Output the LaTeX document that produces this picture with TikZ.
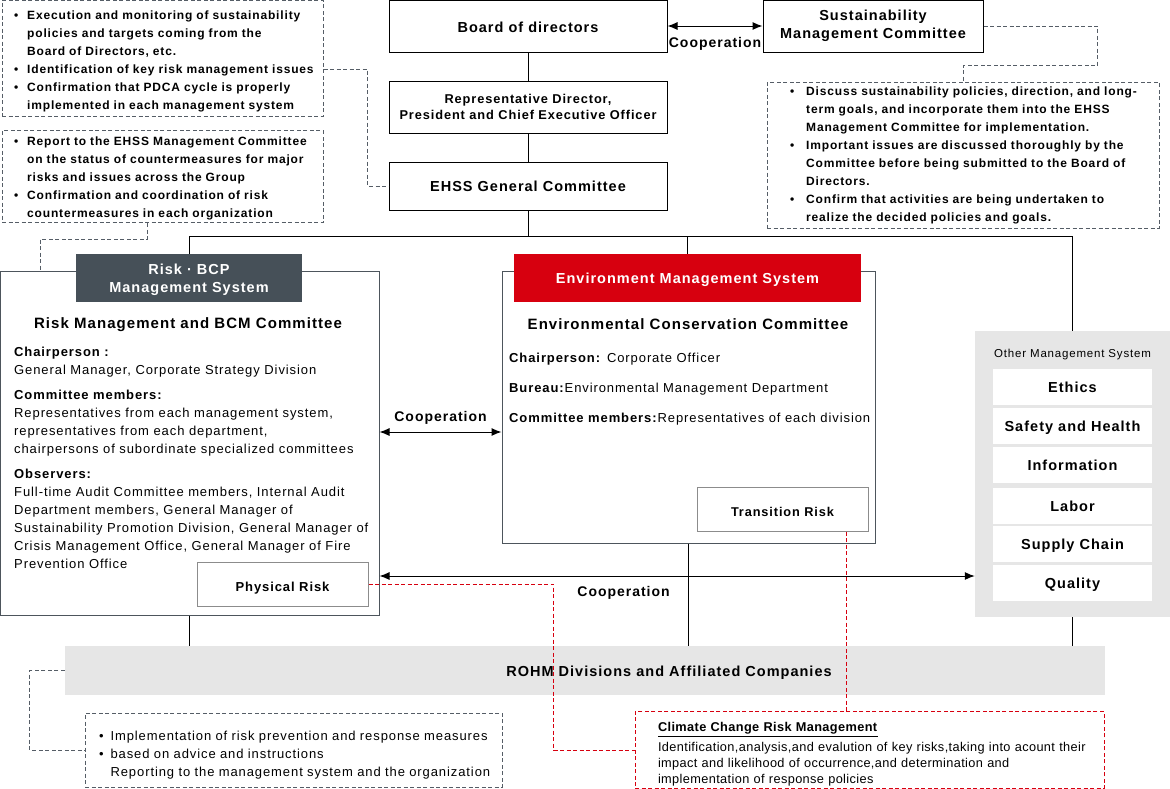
\documentclass[tikz,border=0pt]{standalone}
\usepackage{fontspec}
\setmainfont{Liberation Sans}[LetterSpace=7]
\newfontfamily\narrowfont{Liberation Sans}[LetterSpace=3]
\usepackage{tikz}
\usetikzlibrary{arrows.meta}
\definecolor{slate}{RGB}{70,80,88}
\definecolor{rohmred}{RGB}{215,0,15}
\definecolor{panel}{RGB}{230,230,230}
\definecolor{framegray}{RGB}{77,85,92}
\definecolor{linkgray}{RGB}{85,93,102}
\definecolor{riskgray}{RGB}{140,140,140}
\newcommand{\fsz}[2]{\fontsize{#1}{#2}\selectfont}
\newcommand{\tstrut}{\rule{0pt}{15pt}}
\newcommand{\rowlift}[1]{\rule{0pt}{#1}}
\tikzstyle{box}=[draw=black, line width=1pt, fill=white, inner sep=0pt, align=center, font=\fsz{14.5}{18}\bfseries]
\tikzstyle{frame}=[draw=framegray, line width=1pt, fill=white, inner sep=0pt]
\tikzstyle{tab}=[inner sep=0pt, align=center, text=white, minimum height=48pt, font=\fsz{14.5}{18}\bfseries]
\tikzstyle{title}=[inner sep=0pt, font=\fsz{15}{18}\bfseries]
\tikzstyle{riskbox}=[draw=riskgray, line width=1pt, fill=white, inner sep=0pt, minimum width=171pt, minimum height=44pt, text height=15.5pt, text depth=0pt, font=\fsz{13}{16}\bfseries]
\tikzstyle{note}=[draw=linkgray, line width=1pt, dash pattern=on 4pt off 2.5pt, inner xsep=12pt, inner ysep=0pt, align=left, font=\fsz{12}{18}\bfseries]
\tikzstyle{item}=[fill=white, inner sep=0pt, minimum width=159pt, minimum height=36pt, text height=13.4pt, text depth=3pt, font=\fsz{14.5}{18}\bfseries]
\tikzstyle{txt}=[inner sep=0pt, anchor=north west, align=left, font=\fsz{13}{18}]
\tikzstyle{link}=[draw=linkgray, line width=1pt, dash pattern=on 4pt off 2.5pt]
\tikzstyle{rlink}=[draw=rohmred, line width=1pt, dash pattern=on 4pt off 2.5pt]
\tikzstyle{edge}=[line width=1pt]
\tikzstyle{coop}=[line width=1pt, {Latex[length=10pt,width=8pt]}-{Latex[length=10pt,width=8pt]}]
\tikzstyle{coopLabel}=[inner sep=0pt, font=\fsz{14}{16}\bfseries]

\begin{document}
\begin{tikzpicture}[x=1pt, y=-1pt]
	\useasboundingbox (0,0) rectangle (1170,788);
	\draw (528,26) node[box, minimum width=278pt, minimum height=52pt, text height=12.5pt] (board) {Board of directors};
	\draw (873,26) node[box, minimum width=220pt, minimum height=52pt] (smc) {Sustainability\\Management Committee};
	\draw (528,107) node[box, minimum width=278pt, minimum height=52pt, font=\fsz{12.8}{16}\bfseries] (rep) {Representative Director,\\President and Chief Executive Officer};
	\draw (528,186) node[box, minimum width=278pt, minimum height=48pt] (ehss) {EHSS General Committee};
	\draw (162.5,58) node[note, minimum width=321pt, minimum height=116pt, text width=297pt] (note1) {\noindent\begin{tabular}{@{}l@{\hspace{9pt}}l@{}}
		\rowlift{17.6pt}\textbullet & Execution and monitoring of sustainability\\
		 & policies and targets coming from the\\
		 & Board of Directors, etc.\\
		\textbullet & Identification of key risk management issues\\
		\textbullet & Confirmation that PDCA cycle is properly\\
		 & implemented in each management system
	\end{tabular}};
	\draw (162.5,176.5) node[note, minimum width=321pt, minimum height=91pt, text width=297pt] (note2) {\noindent\begin{tabular}{@{}l@{\hspace{9pt}}l@{}}
		\rowlift{14.6pt}\textbullet & Report to the EHSS Management Committee\\
		 & on the status of countermeasures for major\\
		 & risks and issues across the Group\\
		\textbullet & Confirmation and coordination of risk\\
		 & countermeasures in each organization
	\end{tabular}};
	\draw (963,155) node[note, minimum width=392pt, minimum height=146pt, inner xsep=23pt, text width=346pt] (rnote) {\noindent\begin{tabular}{@{}l@{\hspace{12pt}}l@{}}
		\textbullet & Discuss sustainability policies, direction, and long-\\
		 & term goals, and incorporate them into the EHSS\\
		 & Management Committee for implementation.\\
		\textbullet & Important issues are discussed thoroughly by the\\
		 & Committee before being submitted to the Board of\\
		 & Directors.\\
		\textbullet & Confirm that activities are being undertaken to\\
		 & realize the decided policies and goals.
	\end{tabular}};
	\draw (189.5,443) node[frame, minimum width=379pt, minimum height=344pt] (risk) {};
	\draw (189,278) node[tab, fill=slate, minimum width=226pt] (risktab) {\tstrut Risk · BCP\\Management System};
	\draw (188,325) node[title] (risktitle) {Risk Management and BCM Committee};
	\draw (14,347) node[txt] (riskbody) {\textbf{Chairperson :}\\
		General Manager, Corporate Strategy Division\\[7pt]
		\textbf{Committee members:}\\
		Representatives from each management system,\\
		representatives from each department,\\
		chairpersons of subordinate specialized committees\\[7pt]
		\textbf{Observers:}\\
		Full-time Audit Committee members, Internal Audit\\
		Department members, General Manager of\\
		Sustainability Promotion Division, General Manager of\\
		Crisis Management Office, General Manager of Fire\\
		Prevention Office};
	\draw (282.5,584) node[riskbox] (phys) {Physical Risk};
	\draw (688.5,407) node[frame, minimum width=373pt, minimum height=272pt] (env) {};
	\draw (687.5,278) node[tab, fill=rohmred, minimum width=347pt] (envtab) {\tstrut Environment Management System};
	\draw (688,324) node[title] (envtitle) {Environmental Conservation Committee};
	\draw (509,353) node[txt] (envbody) {\textbf{Chairperson:} Corporate Officer\\[12pt]
		\textbf{Bureau:}Environmental Management Department\\[12pt]
		\textbf{Committee members:}Representatives of each division};
	\draw (782.5,509) node[riskbox, font=\fsz{12.75}{16}\bfseries] (trans) {Transition Risk};
	\draw (1072.5,474) node[fill=panel, inner sep=0pt, minimum width=195pt, minimum height=286pt] (other) {};
	\draw (1072.5,355) node[inner sep=0pt, font=\fsz{11.5}{14}] (othertitle) {Other Management System};
	\draw (1072.5,387) node[item] (ethics) {Ethics};
	\draw (1072.5,426) node[item] (safety) {Safety and Health};
	\draw (1072.5,465) node[item] (info) {Information};
	\draw (1072.5,506) node[item] (labor) {Labor};
	\draw (1072.5,544) node[item] (supply) {Supply Chain};
	\draw (1072.5,583) node[item] (quality) {Quality};
	\draw (585,670.5) node[fill=panel, inner sep=0pt, minimum width=1040pt, minimum height=49pt] (rohm) {};
	\draw (669,673) node[inner sep=0pt, font=\fsz{14.5}{18}\bfseries] (rohmtext) {ROHM Divisions and Affiliated Companies};
	\draw (293.5,750) node[note, minimum width=417pt, minimum height=74pt, inner xsep=14pt, text width=389pt, font=\fsz{13}{18}] (bnote) {\noindent\begin{tabular}{@{}l@{\hspace{7pt}}l@{}}
		\rowlift{22pt}\textbullet & Implementation of risk prevention and response measures\\
		\textbullet & based on advice and instructions\\
		 & Reporting to the management system and the organization
	\end{tabular}};
	\draw (869.5,750) node[note, draw=rohmred, minimum width=469pt, minimum height=74pt, inner xsep=20pt, text width=429pt, font=\narrowfont\fsz{12.75}{16}] (climate) {\noindent\begin{tabular}{@{\hspace{3pt}}l@{}}
		\rowlift{20pt}\underline{\textbf{Climate Change Risk Management}}\\[4pt]
		Identification,analysis,and evalution of key risks,taking into acount their\\
		impact and likelihood of occurrence,and determination and\\
		implementation of response policies
	\end{tabular}};
	\draw[edge] (board) -- (rep);
	\draw[edge] (rep) -- (ehss);
	\draw[edge] (ehss.south) -- (ehss.south |- 0,236);
	\draw[edge] (risktab.north) |- (other.north |- 0,236) -- (other.north);
	\draw[edge] (envtab.north) -- (envtab.north |- 0,236);
	\draw[edge] (risk.south) -- (risk.south |- rohm.north);
	\draw[edge] (env.south) -- (env.south |- rohm.north);
	\draw[edge] (other.south) -- (other.south |- rohm.north);
	\draw[coop] (board.east) -- (smc.west) node[coopLabel, midway, below=11pt] {Cooperation};
	\draw[coop] (risk.east |- 0,432) -- (env.west |- 0,432) node[coopLabel, midway, above=7pt] {Cooperation};
	\draw[coop] (risk.east |- 0,576) -- (other.west |- 0,576) node[coopLabel, pos=0.41, below=10pt] {Cooperation};
	\draw[link] ([yshift=-11pt]note1.east) -| ([xshift=-21pt]ehss.west) -- (ehss.west);
	\draw[link] ([xshift=-15.5pt]note2.south) -- ++(0,16) -| ([xshift=-149.5pt]risk.north);
	\draw[link] (smc.east) -- ++(114,0) |- ([yshift=16pt]rnote.north) -- (rnote.north);
	\draw[link] (rohm.west) -- ++(-35,0) |- (bnote.west);
	\draw[rlink] (phys.east) -| ([xshift=-81pt]climate.west) -- (climate.west);
	\draw[rlink] ([xshift=63.5pt]trans.south) -- ([xshift=63.5pt]trans.south |- climate.north);
\end{tikzpicture}
\end{document}
